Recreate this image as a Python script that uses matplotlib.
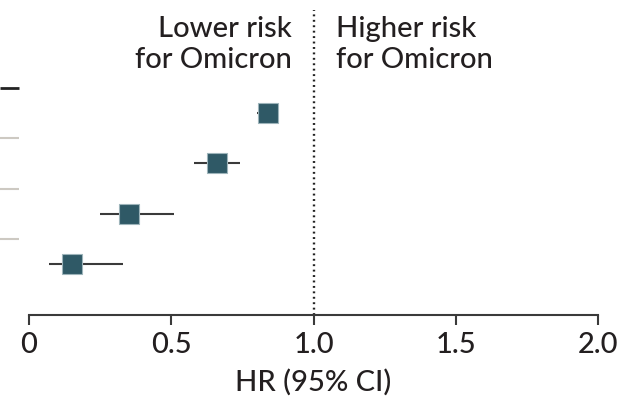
import matplotlib
matplotlib.use("Agg")
import matplotlib.pyplot as plt

plt.rcParams['font.family'] = ['Lato', 'DejaVu Sans']

# Data (top to bottom)
rows = [4, 3, 2, 1]
hr = [0.84, 0.66, 0.35, 0.15]
ci_low = [0.80, 0.58, 0.25, 0.07]
ci_high = [0.87, 0.74, 0.51, 0.33]
separators = [4.5, 3.5, 2.5, 1.5]
xticks = [0, 0.5, 1.0, 1.5, 2.0]
xticklabels = ['0', '0.5', '1.0', '1.5', '2.0']

fig = plt.figure(figsize=(6.32, 4.05), dpi=100)
W, H = 632, 405
left_px, right_px, top_px, bottom_px = 29, 598, 0, 315
ax = fig.add_axes([left_px / W, (H - bottom_px) / H, (right_px - left_px) / W, (bottom_px - top_px) / H])

ax.set_xlim(0, 2.0)
ax.set_ylim(-0.014, 6.247)

txt = '#231f20'
fw = 'medium'

# reference line
ax.plot([1.0, 1.0], [-0.014, 6.05], color='#222222', lw=1.7, linestyle=(0, (0.8, 1.5)), zorder=1)

# CIs and points
for y, h, lo, hi in zip(rows, hr, ci_low, ci_high):
    ax.plot([lo, hi], [y, y], color='#3a3a3a', lw=1.5, zorder=2, solid_capstyle='butt')
ax.plot(hr, rows, linestyle='none', marker='s', markersize=14.5, markerfacecolor='#2f5966',
        markeredgecolor='#9db4ba', markeredgewidth=0.8, zorder=3)

# row separators at left edge
for i, s in enumerate(separators):
    col = '#222222' if i == 0 else '#cdc9c2'
    lw = 2.0 if i == 0 else 1.5
    ax.plot([-29 / 569, -10 / 569], [s, s], transform=ax.get_yaxis_transform(), color=col,
            lw=lw, clip_on=False, solid_capstyle='butt')

# header text
ax.text(0.925, 5.93, 'Lower risk\nfor Omicron', ha='right', va='top', fontsize=21,
        color=txt, linespacing=1.22, fontweight=fw)
ax.text(1.08, 5.93, 'Higher risk\nfor Omicron', ha='left', va='top', fontsize=21,
        color=txt, linespacing=1.22, fontweight=fw)

for sp in ['top', 'right', 'left']:
    ax.spines[sp].set_visible(False)
ax.spines['bottom'].set_color('#3a3a3a')
ax.spines['bottom'].set_linewidth(1.5)
ax.set_yticks([])
ax.set_xticks(xticks)
ax.set_xticklabels(xticklabels, fontsize=21, color=txt, fontweight=fw)
ax.tick_params(axis='x', direction='out', length=7.2, width=1.5, color='#3a3a3a', pad=5)
ax.set_xlabel('HR (95% CI)', fontsize=21, color=txt, labelpad=8, fontweight=fw)

fig.savefig('out.png', dpi=100)
